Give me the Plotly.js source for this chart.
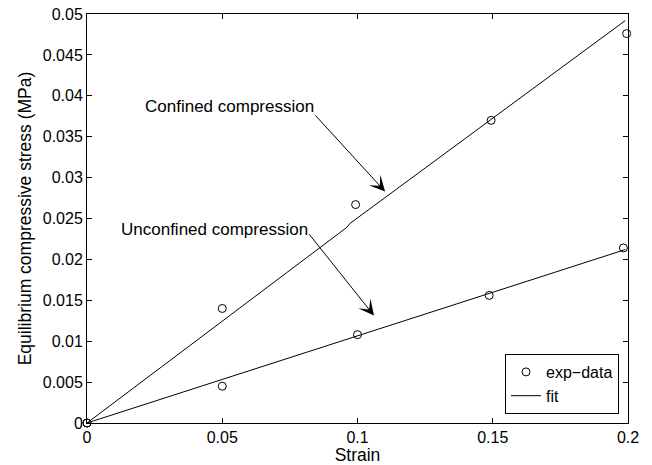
<!DOCTYPE html>
<html>
<head>
<meta charset="utf-8">
<script src="https://cdn.plot.ly/plotly-3.0.1.min.js"></script>
<style>html,body{margin:0;padding:0;background:#fff;}#chart{width:652px;height:465px;}</style>
</head>
<body>
<div id="chart"></div>
<script>
// Experimental data (strain, equilibrium compressive stress in MPa)
const confinedStrain = [0, 0.05, 0.0993, 0.1494, 0.1995];
const confinedStress = [0, 0.0140, 0.0267, 0.0370, 0.0476];
const unconfinedStrain = [0, 0.05, 0.1, 0.1487, 0.1983];
const unconfinedStress = [0, 0.0045, 0.0108, 0.0156, 0.0214];

// Fit lines
const confinedFitStrain = [0, 0.096, 0.0972, 0.199];
const confinedFitStress = [0, 0.0239, 0.02439, 0.0492];
const unconfinedFitStrain = [0, 0.199];
const unconfinedFitStress = [0, 0.0212];

// Tick labels
const xTickVals = [0, 0.05, 0.1, 0.15, 0.2];
const xTickText = ['0', '0.05', '0.1', '0.15', '0.2'];
const yTickVals = [0, 0.005, 0.01, 0.015, 0.02, 0.025, 0.03, 0.035, 0.04, 0.045, 0.05];
const yTickText = ['0', '0.005', '0.01', '0.015', '0.02', '0.025', '0.03', '0.035', '0.04', '0.045', '0.05'];

const FONT = '"Liberation Sans", Arial, sans-serif';
const markerStyle = {symbol: 'circle-open', size: 8, color: '#000', line: {width: 1, color: '#000'}};

const traces = [
  {x: confinedStrain, y: confinedStress, mode: 'markers', name: 'exp−data', marker: markerStyle, showlegend: true, legendrank: 1, cliponaxis: false},
  {x: unconfinedStrain, y: unconfinedStress, mode: 'markers', name: 'exp−data', marker: markerStyle, showlegend: false, cliponaxis: false},
  {x: confinedFitStrain, y: confinedFitStress, mode: 'lines', name: 'fit', line: {color: '#000', width: 1}, showlegend: true, legendrank: 2},
  {x: unconfinedFitStrain, y: unconfinedFitStress, mode: 'lines', name: 'fit', line: {color: '#000', width: 1}, showlegend: false}
];

const axisCommon = {
  showgrid: false, zeroline: false, showline: true, linecolor: '#000', linewidth: 1,
  mirror: 'ticks', ticks: 'inside', ticklen: 5, tickcolor: '#000', tickwidth: 1,
  tickfont: {family: FONT, size: 16, color: '#000'}
};

const layout = {
  width: 652, height: 465,
  margin: {l: 87, r: 24, t: 14, b: 42, pad: 0},
  paper_bgcolor: '#fff', plot_bgcolor: '#fff',
  font: {family: FONT, color: '#000'},
  xaxis: Object.assign({}, axisCommon, {
    range: [0, 0.2], tickmode: 'array', tickvals: xTickVals, ticktext: xTickText,
    title: {text: 'Strain', font: {family: FONT, size: 17.5, color: '#000'}, standoff: 1},
    automargin: false
  }),
  yaxis: Object.assign({}, axisCommon, {
    range: [0, 0.05], tickmode: 'array', tickvals: yTickVals, ticktext: yTickText,
    title: {text: 'Equilibrium compressive stress (MPa)', font: {family: FONT, size: 17.5, color: '#000'}, standoff: 6},
    automargin: false
  }),
  legend: {
    x: 0.9834, y: 0.022, xanchor: 'right', yanchor: 'bottom',
    bgcolor: '#fff', bordercolor: '#000', borderwidth: 1,
    font: {family: FONT, size: 16, color: '#000'},
    tracegroupgap: 0, itemwidth: 30
  },
  annotations: [
    {x: 0.0525, y: 0.0387, xref: 'x', yref: 'y', text: 'Confined compression', showarrow: false,
     xanchor: 'center', yanchor: 'middle', font: {family: FONT, size: 17, color: '#000'}},
    {x: 0.047, y: 0.0237, xref: 'x', yref: 'y', text: 'Unconfined compression', showarrow: false,
     xanchor: 'center', yanchor: 'middle', font: {family: FONT, size: 17, color: '#000'}},
    {x: 0.1102, y: 0.0283, xref: 'x', yref: 'y', ax: 0.0839, ay: 0.0378, axref: 'x', ayref: 'y',
     text: '', showarrow: true, arrowhead: 3, arrowsize: 2.6, arrowwidth: 1, arrowcolor: '#000'},
    {x: 0.1061, y: 0.01313, xref: 'x', yref: 'y', ax: 0.0817, ay: 0.02326, axref: 'x', ayref: 'y',
     text: '', showarrow: true, arrowhead: 3, arrowsize: 2.6, arrowwidth: 1, arrowcolor: '#000'}
  ]
};

Plotly.newPlot('chart', traces, layout, {displayModeBar: false, staticPlot: true});
</script>
</body>
</html>
